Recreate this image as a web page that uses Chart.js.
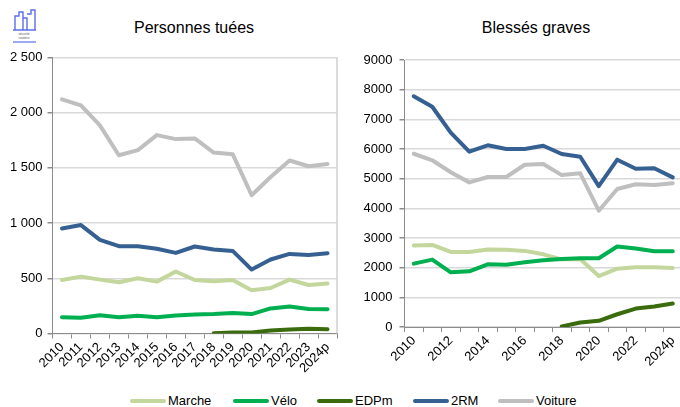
<!DOCTYPE html>
<html lang="fr">
<head>
<meta charset="UTF-8">
<title>Mortalité et blessés graves</title>
<script src="https://cdn.jsdelivr.net/npm/chart.js"></script>
<style>
    body { margin: 0; width: 680px; height: 407px; overflow: hidden; background: #fff; position: relative;
           font-family: "Liberation Sans", Arial, sans-serif; color: #000; }
    canvas { position: absolute; top: 0; }
    #cTues { left: 0; }
    #cBles { left: 345px; }
    .titre { position: absolute; top: 19px; font-size: 16px; white-space: nowrap; transform: translateX(-50%); }
    .leg-line { position: absolute; top: 399px; width: 36px; height: 4px; border-radius: 2px; }
    .leg-text { position: absolute; top: 393px; font-size: 13px; }
    #logo { position: absolute; left: 12px; top: 8px; }
</style>
</head>
<body>
    <svg id="logo" width="26" height="36" viewBox="0 0 26 36">
        <path d="M3 22 V8 H7 V4 H11 V22 M11 10 H15 V22 M15 6 H19 V2 H23 V22 M1 22 H24" fill="none" stroke="#5a6fe8" stroke-width="1.4"/>
        <text x="12" y="27" font-size="3.2" text-anchor="middle" fill="#555">sécurité</text>
        <text x="12" y="31" font-size="3.2" text-anchor="middle" fill="#555">routière</text>
        <line x1="1" y1="34" x2="24" y2="34" stroke="#5a6fe8" stroke-width="1.2"/>
    </svg>

    <div class="titre" style="left:194px">Personnes tuées</div>
    <div class="titre" style="left:536px">Blessés graves</div>

    <canvas id="cTues" width="345" height="380"></canvas>
    <canvas id="cBles" width="345" height="380"></canvas>

    <div id="legende"></div>

<script>
    const annees = ['2010', '2011', '2012', '2013', '2014', '2015', '2016', '2017', '2018', '2019', '2020', '2021', '2022', '2023', '2024p'];
    const series = ['Marche', 'Vélo', 'EDPm', '2RM', 'Voiture'];
    const couleurs = ['#c3d69b', '#00b050', '#3a6b0c', '#366092', '#bfbfbf'];

    // personnes tuées
    const tuesMarche  = [485, 515, 488, 464, 500, 470, 562, 485, 473, 485, 391, 412, 488, 439, 452];
    const tuesVelo    = [148, 142, 165, 148, 160, 148, 164, 173, 176, 185, 176, 227, 245, 221, 220];
    const tuesEdpm    = [null, null, null, null, null, null, null, null, 2, 9, 9, 27, 36, 44, 39];
    const tuesDeuxRM  = [951, 982, 848, 791, 791, 767, 730, 788, 761, 748, 579, 670, 721, 712, 727];
    const tuesVoiture = [2121, 2067, 1885, 1615, 1661, 1797, 1761, 1767, 1639, 1624, 1252, 1418, 1567, 1515, 1536];

    // blessés graves
    const blesMarche  = [2746, 2768, 2531, 2531, 2610, 2600, 2565, 2450, 2280, 2290, 1718, 1966, 2011, 2011, 1989];
    const blesVelo    = [2136, 2271, 1842, 1876, 2113, 2100, 2180, 2250, 2294, 2316, 2316, 2712, 2644, 2554, 2554];
    const blesEdpm    = [null, null, null, null, null, null, null, null, 20, 150, 210, 430, 620, 690, 790];
    const blesDeuxRM  = [7776, 7425, 6550, 5910, 6125, 6000, 6000, 6110, 5830, 5740, 4750, 5640, 5335, 5350, 5045];
    const blesVoiture = [5840, 5620, 5215, 4875, 5055, 5055, 5470, 5495, 5120, 5180, 3920, 4650, 4810, 4790, 4845];

    const police = "'Liberation Sans', Arial, sans-serif";
    Chart.defaults.font.family = police;
    Chart.defaults.font.size = 13;
    Chart.defaults.color = '#000';

    function datasets(valeurs) {
        return valeurs.map((v, i) => ({
            label: series[i],
            data: v,
            borderColor: couleurs[i],
            backgroundColor: couleurs[i],
            borderWidth: 4,
            pointRadius: 0,
            tension: 0,
            borderCapStyle: 'round',
            borderJoinStyle: 'round',
            order: valeurs.length - i
        }));
    }

    function espaceMilliers(v) {
        return String(v).replace(/\B(?=(\d{3})+(?!\d))/g, ' ');
    }

    // bordure droite de la zone de tracé (graphique de gauche)
    const bordDroit = {
        id: 'bordDroit',
        afterDraw(chart) {
            const a = chart.chartArea, ctx = chart.ctx;
            ctx.save();
            ctx.strokeStyle = '#d0d0d0';
            ctx.lineWidth = 1.5;
            ctx.beginPath();
            ctx.moveTo(a.right, a.top);
            ctx.lineTo(a.right, a.bottom);
            ctx.stroke();
            ctx.restore();
        }
    };

    function options(cfg) {
        return {
            responsive: false,
            animation: false,
            layout: { padding: { top: cfg.haut, right: cfg.droite, left: 0, bottom: 0 } },
            plugins: { legend: { display: false }, tooltip: { enabled: false } },
            scales: {
                x: {
                    offset: true,
                    grid: { drawOnChartArea: false, offset: true, tickLength: 5, color: '#8c8c8c' },
                    border: { color: '#8c8c8c', width: 1 },
                    ticks: {
                        autoSkip: false, maxRotation: 45, minRotation: 45, padding: 1,
                        callback: function (val, idx) {
                            return (idx % cfg.pas === 0) ? this.getLabelForValue(val) : '';
                        }
                    },
                    afterFit: s => { s.height = cfg.hautX; }
                },
                y: {
                    min: 0, max: cfg.max,
                    grid: { color: '#d9d9d9', lineWidth: 1.5, tickLength: 5, tickColor: '#8c8c8c' },
                    border: { color: '#8c8c8c', width: 1 },
                    ticks: { stepSize: cfg.step, padding: cfg.padY, callback: cfg.format },
                    afterFit: s => { s.width = cfg.largY; }
                }
            }
        };
    }

    new Chart(document.getElementById('cTues'), {
        type: 'line',
        data: { labels: annees, datasets: datasets([tuesMarche, tuesVelo, tuesEdpm, tuesDeuxRM, tuesVoiture]) },
        options: options({ haut: 57.5, droite: 8, hautX: 46.5, largY: 52.5, max: 2500, step: 500, padY: 5, pas: 1, format: espaceMilliers }),
        plugins: [bordDroit]
    });

    new Chart(document.getElementById('cBles'), {
        type: 'line',
        data: { labels: annees, datasets: datasets([blesMarche, blesVelo, blesEdpm, blesDeuxRM, blesVoiture]) },
        options: options({ haut: 60, droite: 8, hautX: 53, largY: 59.5, max: 9000, step: 1000, padY: 7, pas: 2, format: v => v })
    });

    // légende commune
    const posLegende = [130, 233, 317, 413, 498];
    const leg = document.getElementById('legende');
    series.forEach((nom, i) => {
        const l = document.createElement('div');
        l.className = 'leg-line';
        l.style.left = posLegende[i] + 'px';
        l.style.background = couleurs[i];
        leg.appendChild(l);
        const t = document.createElement('div');
        t.className = 'leg-text';
        t.style.left = (posLegende[i] + 38) + 'px';
        t.textContent = nom;
        leg.appendChild(t);
    });
</script>
</body>
</html>
